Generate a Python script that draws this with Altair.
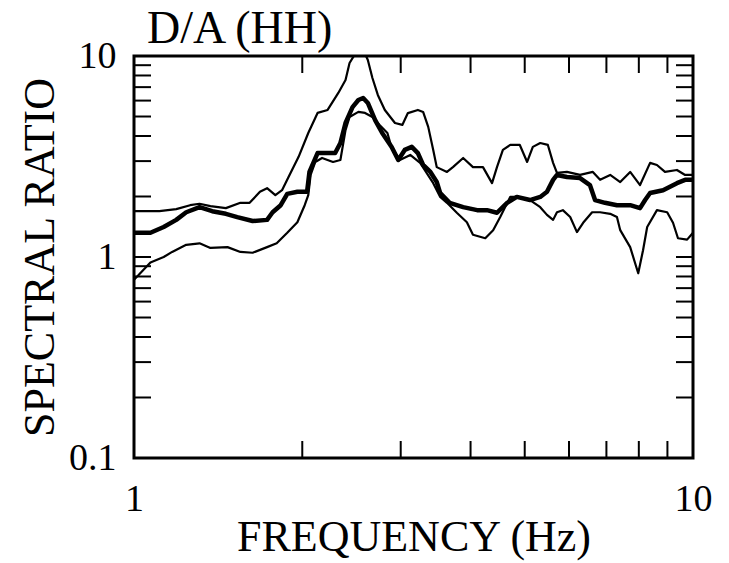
import altair as alt
import pandas as pd

# ---- data (frequency in Hz, spectral ratio) ----
upper_f = [1.00, 1.11, 1.19, 1.26, 1.31, 1.37, 1.46, 1.55, 1.61, 1.68, 1.73, 1.79, 1.84, 1.89,
           1.97, 2.05, 2.13, 2.22, 2.32, 2.39, 2.43, 2.50, 2.58, 2.62, 2.67, 2.73, 2.81, 2.93,
           3.02, 3.09, 3.22, 3.29, 3.36, 3.43, 3.48, 3.63, 3.72, 3.88, 4.04, 4.21, 4.37, 4.46,
           4.57, 4.71, 4.90, 5.05, 5.17, 5.33, 5.50, 5.62, 5.71, 5.95, 6.28, 6.62, 6.82, 7.11,
           7.41, 7.72, 8.04, 8.38, 8.62, 8.91, 9.36, 9.68, 10.0]
upper_v = [1.69, 1.69, 1.73, 1.81, 1.84, 1.79, 1.75, 1.86, 1.86, 2.11, 2.20, 2.03, 2.15, 2.50,
           3.15, 4.14, 5.21, 5.39, 6.55, 7.60, 9.23, 10.5, 10.5, 9.55, 7.77, 6.40, 5.39, 4.64,
           4.54, 5.20, 5.39, 5.27, 4.44, 3.41, 2.80, 2.65, 2.80, 3.11, 2.80, 2.80, 2.33, 2.80,
           3.41, 3.61, 3.61, 2.97, 3.53, 3.69, 3.61, 2.94, 2.62, 2.65, 2.56, 2.65, 2.42, 2.56,
           2.36, 2.65, 2.28, 2.94, 2.87, 2.65, 2.71, 2.56, 2.56]

mean_f = [1.00, 1.07, 1.13, 1.19, 1.24, 1.31, 1.38, 1.46, 1.53, 1.63, 1.73, 1.77, 1.83, 1.88,
          1.96, 2.04, 2.06, 2.13, 2.20, 2.29, 2.34, 2.39, 2.46, 2.52, 2.57, 2.62, 2.70, 2.78,
          2.89, 2.97, 3.05, 3.14, 3.22, 3.29, 3.39, 3.48, 3.53, 3.67, 3.88, 4.11, 4.28, 4.46,
          4.65, 4.84, 5.11, 5.33, 5.48, 5.62, 5.71, 5.95, 6.28, 6.54, 6.68, 6.96, 7.31, 7.72,
          8.04, 8.21, 8.38, 8.84, 9.36, 9.68, 10.0]
mean_v = [1.32, 1.32, 1.41, 1.53, 1.67, 1.77, 1.69, 1.64, 1.58, 1.51, 1.53, 1.67, 1.81, 2.06,
          2.11, 2.11, 2.65, 3.29, 3.29, 3.29, 3.69, 4.64, 5.57, 6.04, 6.18, 5.84, 4.80, 4.14,
          3.53, 3.04, 3.41, 3.53, 3.29, 2.87, 2.65, 2.36, 2.08, 1.86, 1.77, 1.71, 1.71, 1.66,
          1.86, 1.99, 1.92, 1.99, 2.11, 2.42, 2.56, 2.50, 2.47, 2.28, 1.92, 1.86, 1.81, 1.81,
          1.75, 1.92, 2.08, 2.15, 2.33, 2.42, 2.42]

lower_f = [1.00, 1.03, 1.07, 1.13, 1.17, 1.24, 1.31, 1.37, 1.47, 1.55, 1.63, 1.73, 1.80, 1.88,
           1.96, 2.02, 2.05, 2.07, 2.11, 2.17, 2.27, 2.34, 2.39, 2.43, 2.52, 2.59, 2.67, 2.75,
           2.84, 2.89, 2.99, 3.12, 3.25, 3.43, 3.53, 3.63, 3.78, 3.94, 4.04, 4.25, 4.39, 4.52,
           4.71, 4.84, 5.11, 5.33, 5.48, 5.62, 5.71, 5.85, 6.03, 6.20, 6.36, 6.60, 6.82, 7.11,
           7.31, 7.41, 7.72, 7.98, 8.14, 8.28, 8.62, 8.99, 9.21, 9.40, 9.76, 10.0]
lower_v = [0.77, 0.84, 0.94, 1.00, 1.06, 1.15, 1.17, 1.11, 1.12, 1.06, 1.05, 1.12, 1.17, 1.32,
           1.49, 1.81, 2.03, 2.56, 2.97, 3.11, 2.97, 3.04, 4.28, 4.97, 5.27, 5.21, 4.97, 4.54,
           4.14, 3.49, 3.04, 3.22, 2.94, 2.33, 1.99, 1.86, 1.66, 1.49, 1.29, 1.24, 1.36, 1.58,
           1.99, 1.99, 1.92, 1.77, 1.62, 1.53, 1.67, 1.71, 1.58, 1.33, 1.48, 1.67, 1.67, 1.64,
           1.58, 1.36, 1.12, 0.83, 1.08, 1.41, 1.71, 1.67, 1.48, 1.24, 1.22, 1.32]

x_minor = [2, 3, 4, 5, 6, 7, 8, 9]
y_minor = [0.2, 0.3, 0.4, 0.5, 0.6, 0.7, 0.8, 0.9, 1, 2, 3, 4, 5, 6, 7, 8, 9]
x_labels = [1, 10]
y_labels = [0.1, 1, 10]
title_text = ["D/A (HH)"]

up_df = pd.DataFrame({"f": upper_f, "v": upper_v})
mean_df = pd.DataFrame({"f": mean_f, "v": mean_v})
low_df = pd.DataFrame({"f": lower_f, "v": lower_v})
xt = pd.DataFrame({"f": x_minor})
yt = pd.DataFrame({"v": y_minor})
tt = pd.DataFrame({"t": title_text})

W, H = 559, 402
FONT = "Liberation Serif"

xs = alt.Scale(type="log", domain=[1, 10], nice=False)
ys = alt.Scale(type="log", domain=[0.1, 10], nice=False)

x_axis = alt.Axis(
    values=x_labels, format="~g", title="FREQUENCY (Hz)", ticks=False, domain=False,
    grid=False, labelFontSize=38, labelPadding=22, labelFont=FONT, labelColor="black",
    labelFlush=False, titleFont=FONT, titleFontSize=44, titleFontWeight="normal",
    titleColor="black", titleBaseline="alphabetic", titleY=92)
y_axis = alt.Axis(
    values=y_labels, format="~g", title="SPECTRAL RATIO", ticks=False, domain=False,
    grid=False, labelFontSize=38, labelPadding=18, labelFont=FONT, labelColor="black",
    labelFlush=False, titleFont=FONT, titleFontSize=44, titleFontWeight="normal",
    titleColor="black", titleBaseline="alphabetic", titleX=-81, titleY=201, titleAngle=-90)


def curve(df, width):
    return alt.Chart(df).mark_line(color="black", clip=True, strokeJoin="round",
                                   strokeWidth=width).encode(
        x=alt.X("f:Q", scale=xs, axis=x_axis),
        y=alt.Y("v:Q", scale=ys, axis=y_axis),
        order="f:Q",
    )


mean_line = curve(mean_df, 4.5)
up_line = curve(up_df, 2.2)
low_line = curve(low_df, 2.2)

tick_len = 17
bottom = alt.Chart(xt).mark_rule(color="black", strokeWidth=2).encode(
    x=alt.X("f:Q", scale=xs, axis=x_axis), y=alt.value(H), y2=alt.value(H - tick_len))
top = alt.Chart(xt).mark_rule(color="black", strokeWidth=2).encode(
    x=alt.X("f:Q", scale=xs, axis=x_axis), y=alt.value(0), y2=alt.value(tick_len))
left = alt.Chart(yt).mark_rule(color="black", strokeWidth=2).encode(
    y=alt.Y("v:Q", scale=ys, axis=y_axis), x=alt.value(0), x2=alt.value(tick_len))
right = alt.Chart(yt).mark_rule(color="black", strokeWidth=2).encode(
    y=alt.Y("v:Q", scale=ys, axis=y_axis), x=alt.value(W), x2=alt.value(W - tick_len))

title = alt.Chart(tt).mark_text(
    font=FONT, fontSize=46, color="black", align="left", baseline="alphabetic"
).encode(text="t:N", x=alt.value(13), y=alt.value(-13))

chart = alt.layer(mean_line, up_line, low_line, bottom, top, left, right, title).properties(
    width=W, height=H,
    autosize=alt.AutoSizeParams(type="none"),
    padding={"left": 134, "top": 56, "right": 36, "bottom": 105},
    background="white",
).configure_view(stroke="black", strokeWidth=3)

chart.save("out.html", embed_options={"renderer": "svg", "actions": False})
